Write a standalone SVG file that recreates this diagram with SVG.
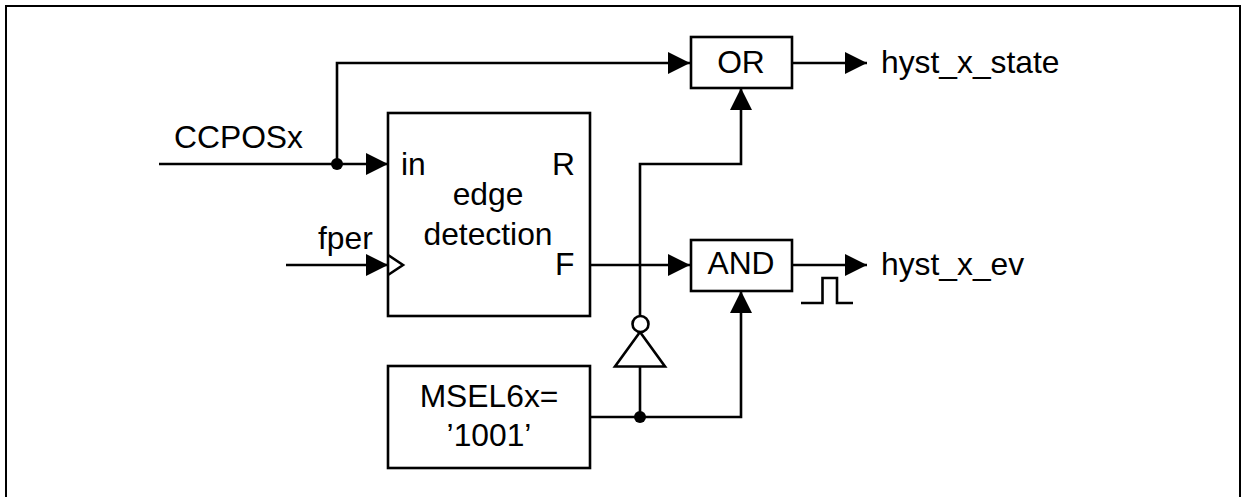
<svg xmlns="http://www.w3.org/2000/svg" width="1241" height="497" viewBox="0 0 1241 497">
<style>
.l{fill:none;stroke:#000;stroke-width:2.600}
.b{fill:#fff;stroke:#000;stroke-width:2.600}
.t{font-family:"Liberation Sans",Arial,sans-serif;font-size:31.800px;fill:#000}
.m{text-anchor:middle}
.d{fill:#000}
</style>
<defs><marker id="a" markerUnits="userSpaceOnUse" markerWidth="24" markerHeight="24" refX="22" refY="11" orient="auto"><path d="M0 0L22 11L0 22Z" fill="#000"/></marker></defs>
<rect width="1241" height="497" fill="#fff"/>
<path id="frame" d="M6 497V6H1240V497" fill="none" stroke="#000" stroke-width="2"/>
<g id="connectors">
<path class="l" d="M159 164H388" marker-end="url(#a)"/>
<path class="l" d="M337 164V63H690" marker-end="url(#a)"/>
<path class="l" d="M286 265H388" marker-end="url(#a)"/>
<path class="l" d="M590 265H690" marker-end="url(#a)"/>
<path class="l" d="M792 63H867" marker-end="url(#a)"/>
<path class="l" d="M792 265H867" marker-end="url(#a)"/>
<path class="l" d="M640 316V164H741V88" marker-end="url(#a)"/>
<path class="l" d="M590 417H741V291" marker-end="url(#a)"/>
<path class="l" d="M640 417V366"/>
<circle class="d" cx="337" cy="164" r="6"/>
<circle class="d" cx="640" cy="417" r="6"/>
</g>
<g id="or"><rect class="b" x="691" y="37" width="101" height="51"/><text class="t m" x="741" y="73">OR</text></g>
<g id="and"><rect class="b" x="691" y="240" width="101" height="51"/><text class="t m" x="741" y="274">AND</text></g>
<g id="edge"><rect class="b" x="388" y="113" width="202" height="203"/>
<path class="l" d="M388 255L403 265L388 275"/>
<text class="t" x="401" y="175">in</text><text class="t" x="552" y="175">R</text>
<text class="t m" x="488" y="205">edge</text><text class="t m" x="488" y="245">detection</text>
<text class="t" x="555" y="275">F</text></g>
<g id="msel"><rect class="b" x="388" y="366" width="202" height="102"/><text class="t m" x="489" y="407">MSEL6x=</text><text class="t m" x="489" y="446">’1001’</text></g>
<g id="inverter"><path class="b" d="M640 332L615 366.500H665Z"/><circle class="b" cx="640.500" cy="324" r="8"/></g>
<g id="pulse"><path class="l" d="M801 303H822.500V278H837V303H853"/></g>
<g id="labels">
<text class="t" x="174" y="148">CCPOSx</text><text class="t" x="318" y="249">fper</text>
<text class="t" x="881" y="72.500">hyst_x_state</text><text class="t" x="881" y="275">hyst_x_ev</text>
</g>
</svg>
